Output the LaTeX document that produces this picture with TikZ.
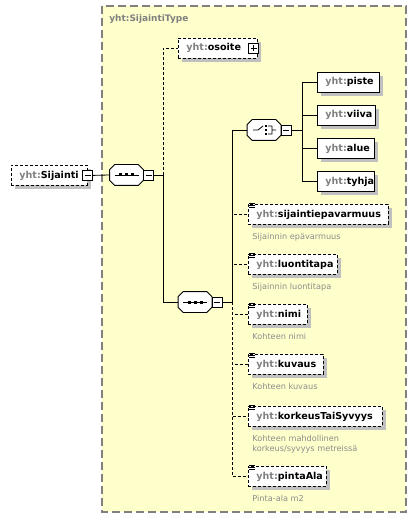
\documentclass[tikz,border=0pt]{standalone}
\usepackage{fontspec}
\setmainfont{DejaVu Sans}
\usetikzlibrary{shadows,positioning}
\definecolor{typefill}{HTML}{FFFFCC}
\definecolor{typeline}{HTML}{808080}
\definecolor{nsgray}{HTML}{808080}
\definecolor{descgray}{HTML}{8C8C8C}
\definecolor{shadowgray}{HTML}{C0C0C0}
\newcommand\yht{\textcolor{nsgray}{yht:}}
\newcommand\octpath[1]{([xshift=5bp]#1.north west) -- ([xshift=-5bp]#1.north east)
  -- ([yshift=-5bp]#1.north east) -- ([yshift=5bp]#1.south east)
  -- ([xshift=-5bp]#1.south east) -- ([xshift=5bp]#1.south west)
  -- ([yshift=5bp]#1.south west) -- ([yshift=-5bp]#1.north west) -- cycle}

\begin{document}
\begin{tikzpicture}[x=1bp,y=-1bp,line width=0.8bp,
    elem/.style={draw, fill=white, anchor=north west, minimum height=20bp,
      inner xsep=8bp, inner ysep=0pt, align=left,
      font=\bfseries\fontsize{9.6}{11}\selectfont,
      drop shadow={shadow xshift=4bp, shadow yshift=-4bp, fill=shadowgray, opacity=1}},
    optelem/.style={elem, dash pattern=on 3bp off 2bp},
    desc/.style={anchor=north west, inner sep=0pt, align=left, text=descgray,
      font=\fontsize{8.2}{10}\selectfont},
    comp/.style={rectangle, minimum width=33bp, minimum height=20bp, inner sep=0pt},
    tog/.style={draw, fill=white, minimum size=10bp, inner sep=0pt},
    minus/.style={tog, path picture={
      \draw ([xshift=2bp]path picture bounding box.west) -- ([xshift=-2bp]path picture bounding box.east);}},
    plus/.style={tog, path picture={
      \draw ([xshift=2bp]path picture bounding box.west) -- ([xshift=-2bp]path picture bounding box.east);
      \draw ([yshift=-2bp]path picture bounding box.north) -- ([yshift=2bp]path picture bounding box.south);}},
    opt/.style={dash pattern=on 3bp off 2bp}
  ]
  \useasboundingbox (0,0) rectangle (416,519);

  % type box
  \draw[typeline, fill=typefill, line width=1.2bp, dash pattern=on 8bp off 4bp] (102,6) rectangle (406,512);
  \node[anchor=west, inner sep=0pt, text=nsgray, font=\bfseries\fontsize{9}{11}\selectfont] (typetitle) at (109,19) {yht:SijaintiType};

  % root element and compositors
  \node[optelem, text width=60bp] (sijainti) at (11,165) {\yht Sijainti};
  \node[minus] (sijainti-m) at (sijainti.east) {};
  \node[comp] (seq1) at (126.5,175) {};
  \node[comp] (seq2) at (195,302) {};
  \node[comp] (choice) at (264,130) {};
  \foreach \c in {seq1,seq2,choice}{
    \fill[shadowgray, shift={(4,4)}] \octpath{\c};
    \filldraw[fill=white] \octpath{\c};
    \node[minus, anchor=west] (\c-m) at (\c.east) {};
  }
  \foreach \c in {seq1,seq2}{
    \draw[shift={(\c.center)}] (-12,0) -- (12,0);
    \foreach \dx in {-6,0,6}
      \fill[shift={(\c.center)}] (\dx-1.5,-1.5) rectangle (\dx+1.5,1.5);
  }
  \draw[shift={(choice.center)}] (-11,0) -- (-6,0) -- (-1,-4)
    (4,-4) -- (8,-4) -- (8,4) -- (4,4) (8,0) -- (12,0);
  \foreach \dy in {-4,0,4}
    \fill[shift={(choice.center)}] (1,\dy-1) rectangle (3,\dy+1);
  \coordinate (j1) at (163,175);
  \coordinate (j2) at (232,302);
  \coordinate (j3) at (302,130);

  \node[optelem, text width=63bp] (osoite) at (178,38) {\yht osoite};
  \node[plus] (osoite-p) at ([xshift=-4bp]osoite.east) {};

  % choice members
  \foreach \nm/\yy/\bw in {piste/72/46, viiva/105/42, alue/138/41, tyhja/171/41}{
    \node[elem, text width=\bw bp] (\nm) at (317,\yy) {\yht\nm};
    \draw (j3) |- (\nm.west);
  }

  % optional elements of the second sequence
  \foreach \nm/\yy/\bw/\txt/\dsc in {
      sijep/204/124/sijaintiepavarmuus/Sijainnin epävarmuus,
      luonti/254/73/luontitapa/Sijainnin luontitapa,
      nimi/304/43/nimi/Kohteen nimi,
      kuvaus/354/59/kuvaus/Kohteen kuvaus,
      korkeus/406/118/korkeusTaiSyvyys/{Kohteen mahdollinen\\korkeus/syvyys metreissä},
      pinta/466/62/pintaAla/Pinta-ala m2}{
    \node[optelem, text width=\bw bp] (\nm) at (248,\yy) {\yht\txt};
    \foreach \k in {-1,1,3}
      \draw[line width=0.7bp] ([shift={(1,\k)}]\nm.north west) -- ++(6,0);
    \node[desc] (\nm-desc) at ([shift={(4,8)}]\nm.south west) {\dsc};
    \draw[opt] (j2) |- (\nm.west);
  }

  % connectors
  \draw (sijainti-m.east) -- (seq1.west);
  \draw (seq1-m.east) -- (j1) |- (seq2.west);
  \draw[opt] (j1) |- (osoite.west);
  \draw (seq2-m.east) -- (j2) |- (choice.west);
  \draw (choice-m.east) -- (j3);
\end{tikzpicture}
\end{document}
